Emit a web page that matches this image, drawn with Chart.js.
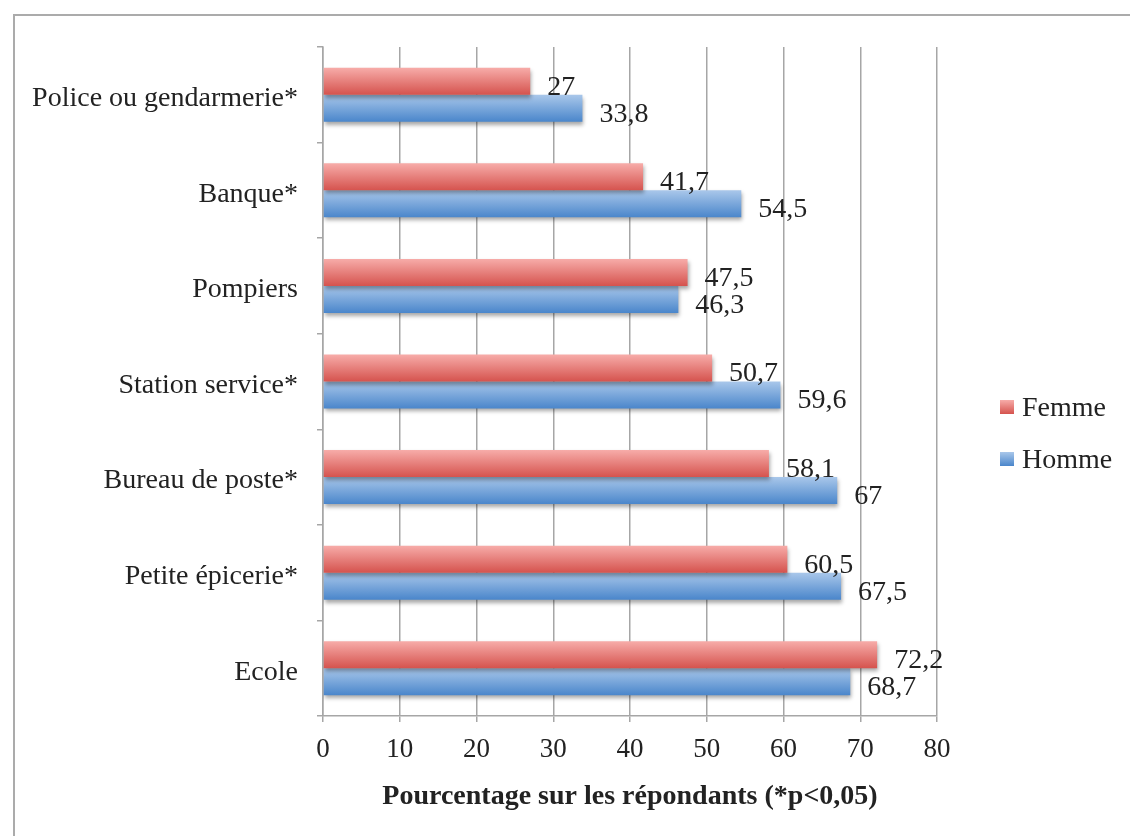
<!DOCTYPE html>
<html>
<head>
<meta charset="utf-8">
<script src="https://cdn.jsdelivr.net/npm/chart.js@4/dist/chart.umd.min.js"></script>
<style>
html, body { margin: 0; padding: 0; background: #fff; overflow: hidden; }
#cadre { position: absolute; left: 13px; top: 14px; width: 1400px; height: 1000px;
	border-left: 2px solid #ababab; border-top: 2px solid #ababab; }
#zone { position: absolute; left: 0; top: 0; width: 1130px; height: 836px; }
</style>
</head>
<body>
<div id="cadre"></div>
<div id="zone"><canvas id="graficoLieux" width="1130" height="836"></canvas></div>
<script>
var categories = ['Police ou gendarmerie*', 'Banque*', 'Pompiers', 'Station service*',
	'Bureau de poste*', 'Petite épicerie*', 'Ecole'];
var valeursFemme = [27, 41.7, 47.5, 50.7, 58.1, 60.5, 72.2];
var valeursHomme = [33.8, 54.5, 46.3, 59.6, 67, 67.5, 68.7];
var ticksX = [0, 10, 20, 30, 40, 50, 60, 70, 80];
var titreX = 'Pourcentage sur les répondants (*p<0,05)';

var POLICE = '"Liberation Serif", "Times New Roman", serif';
var GRIS = '#a6a6a6';
var degrades = [
	['#f7aca9', '#d5534e'],  // Femme
	['#a9c7ea', '#4a86cb']   // Homme
];

function degrade(ctx, couleurs, haut, bas) {
	var g = ctx.createLinearGradient(0, haut, 0, bas);
	g.addColorStop(0, couleurs[0]);
	g.addColorStop(1, couleurs[1]);
	return g;
}

// dégradé vertical + ombre sur chaque barre
var pluginBarres = {
	id: 'barres',
	beforeDatasetDraw: function(chart, args) {
		var ctx = chart.ctx;
		var couleurs = degrades[args.index];
		args.meta.data.forEach(function(barre) {
			var haut = barre.y - barre.height / 2;
			var bas = barre.y + barre.height / 2;
			barre.options = Object.assign({}, barre.options, {
				backgroundColor: degrade(ctx, couleurs, haut, bas)
			});
		});
		ctx.save();
		ctx.shadowColor = 'rgba(0,0,0,0.35)';
		ctx.shadowBlur = 4;
		ctx.shadowOffsetX = 1;
		ctx.shadowOffsetY = 3;
	},
	afterDatasetDraw: function(chart) {
		chart.ctx.restore();
	}
};

// étiquettes de valeurs (virgule décimale)
var pluginEtiquettes = {
	id: 'etiquettes',
	afterDatasetsDraw: function(chart) {
		var ctx = chart.ctx;
		ctx.save();
		ctx.font = '28px ' + POLICE;
		ctx.fillStyle = '#222';
		ctx.textAlign = 'left';
		ctx.textBaseline = 'middle';
		chart.data.datasets.forEach(function(ds, i) {
			chart.getDatasetMeta(i).data.forEach(function(barre, j) {
				var texte = String(ds.data[j]).replace('.', ',');
				ctx.fillText(texte, barre.x + 17, barre.y + 6);
			});
		});
		ctx.restore();
	}
};

// légende à droite
var pluginLegende = {
	id: 'legende',
	afterDraw: function(chart) {
		var ctx = chart.ctx;
		var x = chart.chartArea.right + 63;
		ctx.save();
		ctx.font = '28px ' + POLICE;
		ctx.fillStyle = '#222';
		ctx.textBaseline = 'middle';
		chart.data.datasets.forEach(function(ds, i) {
			var y = 400 + i * 52;
			ctx.fillStyle = degrade(ctx, degrades[i], y, y + 14);
			ctx.fillRect(x, y, 14, 14);
			ctx.fillStyle = '#222';
			ctx.fillText(ds.label, x + 22, y + 9);
		});
		ctx.restore();
	}
};

var graficoLieux = new Chart(document.getElementById('graficoLieux').getContext('2d'), {
	type: 'bar',
	data: {
		labels: categories,
		datasets: [{
			label: 'Femme',
			backgroundColor: '#e57c78',
			data: valeursFemme
		},
		{
			label: 'Homme',
			backgroundColor: '#79a6db',
			data: valeursHomme
		}]
	},
	options: {
		indexAxis: 'y',
		responsive: false,
		animation: false,
		devicePixelRatio: 1,
		categoryPercentage: 0.565,
		barPercentage: 1,
		layout: { padding: { left: 15, top: 47, right: 193, bottom: 0 } },
		plugins: {
			legend: { display: false },
			tooltip: { enabled: false }
		},
		scales: {
			x: {
				min: ticksX[0],
				max: ticksX[ticksX.length - 1],
				afterFit: function(scale) { scale.height = 120; },
				afterBuildTicks: function(scale) {
					scale.ticks = ticksX.map(function(v) { return { value: v }; });
				},
				grid: { color: GRIS, lineWidth: 1.5, tickLength: 6 },
				border: { color: GRIS, width: 1.5 },
				ticks: { padding: 12, color: '#222', font: { family: POLICE, size: 27 } },
				title: {
					display: true,
					text: titreX,
					color: '#222',
					padding: { top: 22, bottom: 22 },
					font: { family: POLICE, size: 28, weight: 'bold' }
				}
			},
			y: {
				afterFit: function(scale) { scale.width = 308; },
				grid: { color: GRIS, lineWidth: 1.5, tickLength: 6, drawOnChartArea: false, offset: true },
				border: { color: GRIS, width: 1.5 },
				ticks: { padding: 19, labelOffset: 4, color: '#222', font: { family: POLICE, size: 28 } }
			}
		}
	},
	plugins: [pluginBarres, pluginEtiquettes, pluginLegende]
});
</script>
</body>
</html>
